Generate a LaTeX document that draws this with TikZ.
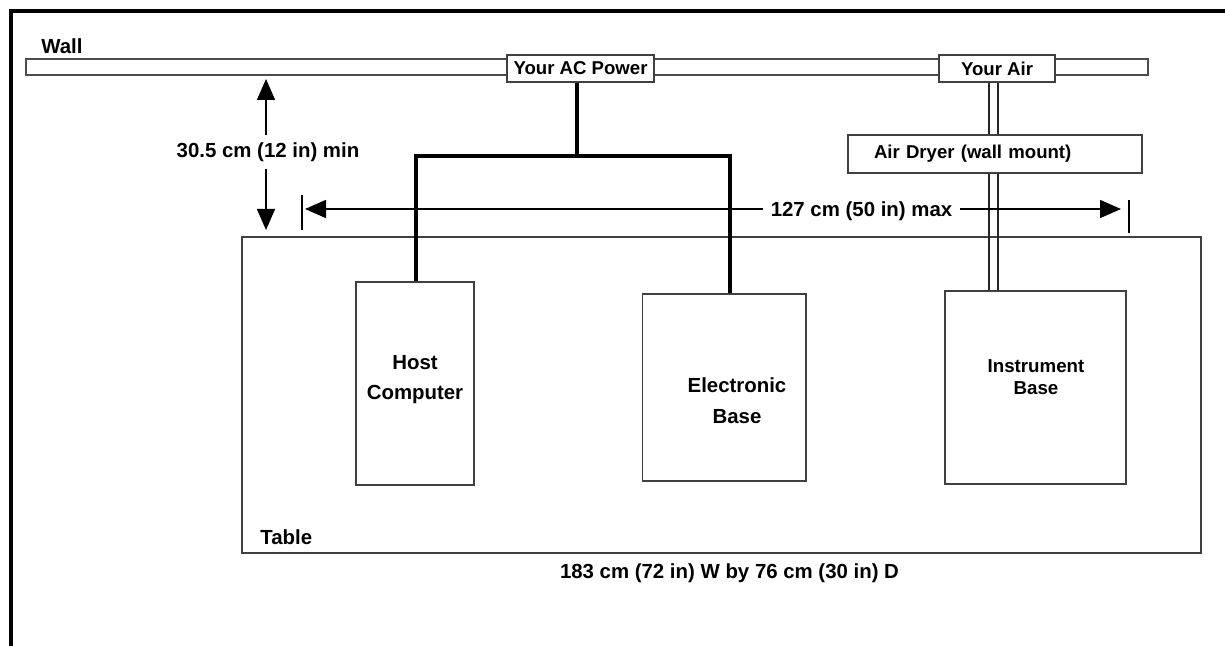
\documentclass[tikz,border=0pt]{standalone}
\usepackage{fontspec}
\setmainfont{Liberation Sans}
\usetikzlibrary{arrows.meta}
\begin{document}
\begin{tikzpicture}[x={(0.5pt,0)}, y={(0,-0.5pt)},
  box/.style={draw=black!75, line width=0.9pt, fill=white, inner sep=0pt},
  wallbox/.style={box, font=\fontsize{9.3}{11}\selectfont\bfseries},
  lbl/.style={font=\fontsize{10.2}{12}\selectfont\bfseries, inner sep=0pt},
  dimlbl/.style={font=\fontsize{10.2}{12}\selectfont\bfseries, inner sep=3.5pt},
  devlbl/.style={font=\fontsize{10.2}{15.2}\selectfont\bfseries, align=center, inner sep=0pt},
  dimline/.style={line width=0.75pt, -{Triangle[length=10.5pt,width=9pt]}},
  tickline/.style={line width=0.75pt},
  power/.style={line width=1.6pt},
  pipe/.style={line width=0.7pt, draw=black!85},
  frameline/.style={line width=1.6pt}]
\useasboundingbox (0,0) rectangle (1225,646);
\fill[white] (0,0) rectangle (1225,646);
\draw[frameline] (11,660) -- (11,11) -- (1240,11);

% wall
\node[box, draw=black!70, minimum width=561pt, minimum height=8pt] (wall) at (587,67) {};
\node[lbl, anchor=base west] (walllbl) at (41,53.3) {Wall};
\node[wallbox, minimum width=73.5pt, minimum height=13.5pt] (acp) at (580.5,68.5) {Your AC Power};
\node[wallbox, minimum width=58pt, minimum height=13.5pt] (air) at (997,68.5) {Your Air};
\node[wallbox, minimum width=147pt, minimum height=19pt, inner xsep=13pt, text width=121pt, align=left] (dryer) at (995,154) {Air Dryer (wall mount)};

% table
\node[box, draw=black!75, minimum width=479.5pt, minimum height=158pt] (table) at (721.5,395) {};
\node[lbl, anchor=base west] (tablelbl) at (260,544.3) {Table};
\node[lbl, anchor=base] (size) at (729.5,578.3) {183 cm (72 in) W by 76 cm (30 in) D};

% devices
\node[box, minimum width=59pt, minimum height=101.5pt] (host) at (415,383.5) {};
\node[devlbl, font=\fontsize{10.2}{15}\selectfont\bfseries] (hostlbl) at (415,380) {Host\\Computer};
\node[box, minimum width=81.75pt, minimum height=93.7pt] (elec) at (724.3,387.4) {};
\node[devlbl, font=\fontsize{10.2}{15.5}\selectfont\bfseries] (eleclbl) at (737,400.5) {Electronic\\Base};
\node[box, minimum width=90.5pt, minimum height=96.5pt] (inst) at (1035.5,387.5) {};
\node[devlbl, font=\fontsize{9.36}{11.15}\selectfont\bfseries] (instlbl) at (1036,377.2) {Instrument\\Base};

% power
\coordinate (pj) at (577,156);
\coordinate (pjL) at (416,156);
\coordinate (pjR) at (730,156);
\draw[power] (acp.south -| pj) -- (pj);
\draw[power] (host.north -| pjL) -- (pjL) -- (pjR) -- (elec.north -| pjR);

% air pipes
\coordinate (pa1) at (989,0);
\coordinate (pa2) at (998,0);
\draw[pipe] (air.south -| pa1) -- (dryer.north -| pa1);
\draw[pipe] (air.south -| pa2) -- (dryer.north -| pa2);
\draw[pipe] (dryer.south -| pa1) -- (inst.north -| pa1);
\draw[pipe] (dryer.south -| pa2) -- (inst.north -| pa2);

% vertical dimension
\node[dimlbl, anchor=base] (vdim) at (268,157.3) {30.5 cm (12 in) min};
\coordinate (vtop) at (266,79);
\coordinate (vbot) at (266,230);
\draw[dimline] (vdim.north -| vtop) -- (vtop);
\draw[dimline] (vdim.south -| vtop) -- (vbot);

% horizontal dimension
\node[dimlbl, anchor=base] (hdim) at (861.5,216.7) {127 cm (50 in) max};
\coordinate (hl) at (305,209);
\coordinate (hr) at (1121,209);
\draw[dimline] (hdim.west |- hl) -- (hl);
\draw[dimline] (hdim.east |- hr) -- (hr);
\coordinate (tl1) at (302,195);
\coordinate (tl2) at (302,230);
\coordinate (tr1) at (1129,200);
\coordinate (tr2) at (1129,233);
\draw[tickline] (tl1) -- (tl2);
\draw[tickline] (tr1) -- (tr2);
\end{tikzpicture}
\end{document}
